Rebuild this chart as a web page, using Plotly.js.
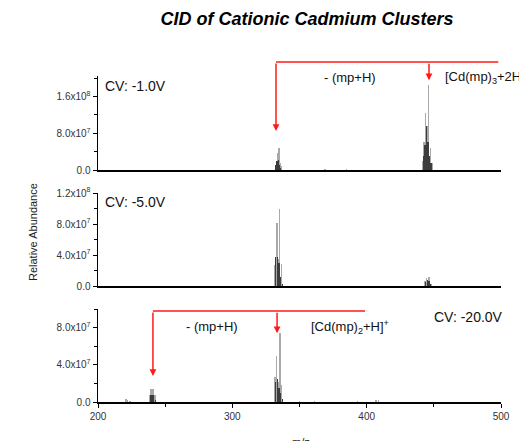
<!DOCTYPE html>
<html>
<head>
<meta charset="utf-8">
<script src="https://cdn.plot.ly/plotly-3.0.1.min.js"></script>
<style>html,body{margin:0;padding:0;background:#fff;}#chart{width:519px;height:441px;}</style>
</head>
<body>
<div id="chart"></div>
<script>
// ---- Data (m/z, relative abundance) ----
// Panel 1: CV -1.0 V
const mzLight1 = [332.0, 333.8, 334.7, 335.5, 336.3, 369.0, 385.0, 441.8, 442.8, 444.0, 445.2, 446.2, 447.6, 449.0];
const valLight1 = [1.2e7, 3.7e7, 4.8e7, 1.5e7, 8e6, 1.5e6, 1.5e6, 2.0e7, 6.0e7, 1.25e8, 9.5e7, 1.86e8, 4.8e7, 1.5e7];
const mzDark1 = [332.5, 333.3, 334.3, 335.2, 336.0, 442.5, 443.5, 444.6, 445.6, 446.8, 448.0];
const valDark1 = [1.0e7, 2.0e7, 2.2e7, 1.2e7, 5e6, 3.0e7, 5.5e7, 9.5e7, 6.0e7, 3.0e7, 1.5e7];
// Panel 2: CV -5.0 V
const mzLight2 = [331.8, 333.3, 334.3, 335.2, 336.7, 443.5, 444.6, 445.8, 446.8, 448.0];
const valLight2 = [2.7e7, 8.1e7, 3.5e7, 9.9e7, 2.8e7, 6.5e6, 1.0e7, 1.2e7, 1.2e7, 3e6];
const mzDark2 = [332.3, 333.8, 334.8, 335.8, 337.2, 444.0, 445.2, 446.3, 447.5];
const valDark2 = [3.8e7, 3.8e7, 3.0e7, 1.1e7, 3e6, 5e6, 8e6, 6e6, 3e6];
// Panel 3: CV -20.0 V
const mzLight3 = [220.8, 222.0, 223.8, 238.5, 239.5, 240.9, 242.4, 331.8, 333.0, 334.2, 335.5, 336.6, 350.0, 361.0, 393.0, 407.0, 409.0];
const valLight3 = [3e6, 2e6, 1.5e6, 7e6, 1.45e7, 1.45e7, 7e6, 2.7e7, 5.0e7, 2.2e7, 7.4e7, 1.8e7, 1.5e6, 1e6, 1.5e6, 2e6, 2.5e6];
const mzDark3 = [239.0, 240.2, 241.5, 243.0, 332.3, 333.5, 334.8, 335.9, 337.2];
const valDark3 = [8e6, 7.5e6, 7e6, 2e6, 2.2e7, 2.5e7, 1.5e7, 1.0e7, 3e6];

// Tick labels
const xTickVals = [200, 300, 400, 500];
const xTickText = ['200', '300', '400', '500'];
const y1TickVals = [0, 8e7, 1.6e8];
const y1TickText = ['0.0', '8.0x10<sup>7</sup>', '1.6x10<sup>8</sup>'];
const y2TickVals = [0, 4e7, 8e7, 1.2e8];
const y2TickText = ['0.0', '4.0x10<sup>7</sup>', '8.0x10<sup>7</sup>', '1.2x10<sup>8</sup>'];
const y3TickVals = [0, 4e7, 8e7];
const y3TickText = ['0.0', '4.0x10<sup>7</sup>', '8.0x10<sup>7</sup>'];

const LIGHT = '#a9a9a9', DARK = '#3c3c3c', RED = '#ff1a1a';
function bars(x, y, color, xa, ya) {
  return {type: 'bar', x: x, y: y, width: 1.0, marker: {color: color, line: {width: 0}},
          xaxis: xa, yaxis: ya, hoverinfo: 'skip', showlegend: false};
}
const data = [
  bars(mzLight1, valLight1, LIGHT, 'x3', 'y3'),
  bars(mzDark1, valDark1, DARK, 'x3', 'y3'),
  bars(mzLight2, valLight2, LIGHT, 'x2', 'y2'),
  bars(mzDark2, valDark2, DARK, 'x2', 'y2'),
  bars(mzLight3, valLight3, LIGHT, 'x', 'y'),
  bars(mzDark3, valDark3, DARK, 'x', 'y')
];

const FONT = 'Liberation Sans, Arial, sans-serif';
function yax(dom, range, tv, tt, minorVals, anchor) {
  return {domain: dom, range: range, anchor: anchor, showline: true, linecolor: '#000', linewidth: 1.5,
          ticks: 'outside', ticklen: 4, tickwidth: 1, tickcolor: '#000', tickmode: 'array',
          tickvals: tv, ticktext: tt, showgrid: false, zeroline: false, fixedrange: true,
          tickfont: {family: FONT, size: 10, color: '#333'},
          minor: {tickmode: 'array', tickvals: minorVals, ticks: 'outside', ticklen: 3, tickwidth: 1, tickcolor: '#000', showgrid: false}};
}
function xax(anchor, labels) {
  const a = {domain: [0, 1], range: [200, 500], anchor: anchor, showline: true, linecolor: '#000', linewidth: 1.5,
             showgrid: false, zeroline: false, fixedrange: true,
             tickfont: {family: FONT, size: 10, color: '#333'}};
  if (labels) {
    Object.assign(a, {ticks: 'outside', ticklen: 4, tickwidth: 1, tickcolor: '#000', tickmode: 'array',
      tickvals: xTickVals, ticktext: xTickText,
      minor: {tickmode: 'array', tickvals: [250, 350, 450], ticks: 'outside', ticklen: 3, tickwidth: 1, tickcolor: '#000', showgrid: false}});
  } else {
    Object.assign(a, {ticks: '', showticklabels: false});
  }
  return a;
}

function py(p) { return (402 - p) / 326; } // pixel row -> paper y
function px(p) { return (p - 98) / 403; }  // pixel col -> paper x

const txt = (text, x, y, size, xanchor) => ({text: text, xref: 'paper', yref: 'paper', x: x, y: y,
  showarrow: false, xanchor: xanchor || 'center', yanchor: 'middle', font: {family: FONT, size: size, color: '#111'}});
const arrow = (x, y, xr, yr, ay) => ({x: x, y: y, xref: xr, yref: yr, text: '', showarrow: true,
  ax: 0, ay: ay, arrowhead: 2, arrowsize: 0.9, arrowwidth: 1.5, arrowcolor: RED, standoff: 0});

const layout = {
  width: 519, height: 441,
  margin: {l: 98, r: 18, t: 76, b: 39},
  paper_bgcolor: '#fff', plot_bgcolor: '#fff',
  barmode: 'overlay', bargap: 0,
  title: {text: '<b><i>CID of Cationic Cadmium Clusters</i></b>', font: {family: FONT, size: 18, color: '#000'},
          xref: 'paper', x: px(307), xanchor: 'center', yref: 'container', y: 1 - 19 / 441, yanchor: 'middle'},
  xaxis: xax('y', true),
  yaxis: yax([0, py(309)], [0, 1.0e8], y3TickVals, y3TickText, [2e7, 6e7, 1e8], 'x'),
  xaxis2: xax('y2', false),
  yaxis2: yax([py(286), py(193)], [0, 1.2e8], y2TickVals, y2TickText, [2e7, 6e7, 1e8], 'x2'),
  xaxis3: xax('y3', false),
  yaxis3: yax([py(170), 1], [0, 2.05e8], y1TickVals, y1TickText, [4e7, 1.2e8, 2e8], 'x3'),
  shapes: [
    {type: 'line', xref: 'x3', yref: 'paper', x0: 332.5, x1: 498, y0: py(62), y1: py(62), line: {color: RED, width: 1.5}},
    {type: 'line', xref: 'x', yref: 'paper', x0: 240.9, x1: 398.8, y0: py(311), y1: py(311), line: {color: RED, width: 1.5}}
  ],
  annotations: [
    arrow(332.5, 8.5e7, 'x3', 'y3', -69),
    arrow(446.4, 1.96e8, 'x3', 'y3', -18),
    arrow(240.9, 2.8e7, 'x', 'y', -65),
    arrow(333.3, 7.4e7, 'x', 'y', -22),
    txt('CV: -1.0V', px(103), py(86), 14, 'left'),
    txt('CV: -5.0V', px(103), py(202), 14, 'left'),
    txt('CV: -20.0V', px(432), py(317), 14, 'left'),
    txt('- (mp+H)', px(350), py(77), 13),
    txt('[Cd(mp)<sub>3</sub>+2H]<sup>+</sup>', px(443), py(77), 13, 'left'),
    txt('- (mp+H)', px(212), py(326), 13),
    txt('[Cd(mp)<sub>2</sub>+H]<sup>+</sup>', px(309), py(327), 13, 'left'),
    {text: 'Relative Abundance', xref: 'paper', yref: 'paper', x: px(33), y: py(232), textangle: -90,
     showarrow: false, xanchor: 'center', yanchor: 'middle', font: {family: FONT, size: 11, color: '#222'}},
    {text: 'm/z', xref: 'paper', yref: 'paper', x: px(301), y: py(434), showarrow: false,
     xanchor: 'center', yanchor: 'top', font: {family: FONT, size: 11, color: '#222'}}
  ]
};

Plotly.newPlot('chart', data, layout, {displayModeBar: false, staticPlot: true});
</script>
</body>
</html>
